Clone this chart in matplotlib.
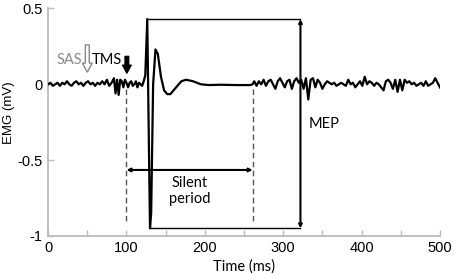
import matplotlib
matplotlib.use("Agg")
import matplotlib.pyplot as plt
from matplotlib.ticker import MultipleLocator

# ---------------------------------------------------------------------------
# Data
# ---------------------------------------------------------------------------

t_pre = [0, 3, 6, 9, 12, 15, 18, 21, 24, 27, 30, 33, 36, 39, 42, 45, 48, 51, 54,
         57, 60, 63, 66, 69, 72, 75, 78, 81, 84, 86, 88, 90, 92, 94, 96, 98, 100,
         102, 104, 106, 108, 110, 112, 114, 116, 118, 120, 122]
v_pre = [0.00, 0.01, -0.01, 0.00, 0.01, -0.01, 0.01, 0.00, 0.02, 0.00, -0.01,
         0.01, 0.02, 0.00, 0.01, -0.01, 0.01, 0.02, 0.00, 0.01, -0.01, 0.01, 0.00,
         0.02, 0.00, 0.03, -0.01, 0.01, 0.04, -0.06, 0.03, -0.07, 0.03, 0.02, -0.02,
         0.03, 0.01, -0.02, 0.01, 0.02, -0.01, 0.00, 0.02, -0.02, 0.01, 0.00, -0.01,
         0.02]

t_mep = [124, 126.5, 130, 131.5, 134, 137, 140, 144, 148, 152, 156, 160, 165,
         170, 176, 185, 195, 205, 220, 240, 258]
v_mep = [0.06, 0.43, -0.95, -0.85, 0.0, 0.23, 0.20, 0.05, -0.04, -0.065, -0.065,
         -0.04, -0.01, 0.02, 0.03, 0.02, 0.0, -0.005, -0.003, -0.005, -0.005]

t_post = [261, 263, 266, 269, 272, 275, 278, 281, 284, 287, 290, 293, 296, 299,
          302, 305, 308, 311, 314, 317, 320, 323, 326, 329, 332, 335, 338, 341,
          344, 347, 350, 353, 356, 359, 362, 365, 368, 371, 374, 377, 380, 383,
          386, 389, 392, 395, 398, 401, 404, 407, 410, 413, 416, 419, 422, 425,
          428, 431, 434, 437, 440, 443, 446, 449, 452, 455, 458, 461, 464, 467,
          470, 473, 476, 479, 482, 485, 488, 491, 494, 497, 500]
v_post = [0.0, 0.02, -0.01, 0.02, 0.0, 0.03, -0.01, 0.02, 0.03, 0.0, -0.03, 0.02,
          0.04, 0.01, -0.02, 0.02, 0.03, -0.03, 0.02, 0.04, 0.01, 0.03, -0.03, 0.04,
          -0.10, 0.03, 0.04, -0.02, 0.03, 0.01, -0.03, 0.0, 0.02, 0.01, 0.0, 0.01,
          -0.01, 0.0, 0.01, 0.0, -0.01, 0.03, 0.0, 0.01, -0.02, 0.0, 0.02, -0.01,
          0.05, 0.0, 0.02, 0.01, -0.01, 0.01, 0.0, -0.02, -0.04, 0.02, 0.03, 0.01,
          -0.03, 0.03, -0.05, 0.03, -0.04, 0.03, 0.01, 0.02, 0.0, 0.01, -0.01, 0.0,
          0.01, -0.01, 0.02, -0.01, 0.0, 0.01, 0.04, 0.01, -0.02]

time_ms = t_pre + t_mep + t_post
emg_mv = v_pre + v_mep + v_post

# Annotation landmarks (ms / mV)
SAS_T = 50
TMS_T = 100
SP_END = 261
MEP_T = 322
MEP_PEAK = 0.43
MEP_TROUGH = -0.95

LABEL_FONT = ["Lato", "DejaVu Sans"]
TICK_FONT = ["Liberation Sans", "DejaVu Sans"]

# ---------------------------------------------------------------------------
# Plot
# ---------------------------------------------------------------------------

fig = plt.figure(figsize=(4.54, 2.74), dpi=100)
ax = fig.add_axes([0.106, 0.139, 0.863, 0.830])

ax.plot(time_ms, emg_mv, color="black", lw=1.6, zorder=3)

# MEP box and peak-to-peak arrow
ax.plot([126.5, MEP_T], [MEP_PEAK, MEP_PEAK], color="black", lw=1.0)
ax.plot([130, MEP_T], [MEP_TROUGH, MEP_TROUGH], color="black", lw=1.0)
ax.annotate("", xy=(MEP_T, MEP_TROUGH), xytext=(MEP_T, MEP_PEAK),
            arrowprops=dict(arrowstyle="<|-|>", color="black", lw=1.5,
                            mutation_scale=5, shrinkA=0, shrinkB=0))
ax.text(333, -0.26, "MEP", fontsize=10.5, family=LABEL_FONT, va="center")

# Silent period
for x in (TMS_T, SP_END):
    ax.plot([x, x], [-0.03, -0.90], color="#555555", lw=1.0, ls=(0, (4, 2.5)))
ax.annotate("", xy=(TMS_T, -0.565), xytext=(SP_END, -0.565),
            arrowprops=dict(arrowstyle="<|-|>", color="black", lw=1.5,
                            mutation_scale=5, shrinkA=0, shrinkB=0))
ax.text(181, -0.705, "Silent\nperiod", fontsize=10.5, family=LABEL_FONT,
        ha="center", va="center", linespacing=1.2)

# Stimulus markers (hollow grey = SAS, filled black = TMS)
ax.arrow(SAS_T, 0.26, 0, 0.08 - 0.26, width=5, head_width=12.5, head_length=0.06,
         length_includes_head=True, fc="white", ec="#888888", lw=1.0)
ax.text(44, 0.16, "SAS", fontsize=10.5, family=LABEL_FONT, color="#888888",
        ha="right", va="center")
ax.arrow(TMS_T + 0.5, 0.185, 0, 0.072 - 0.185, width=5, head_width=11.5,
         head_length=0.055, length_includes_head=True, fc="black", ec="black", lw=0.8)
ax.text(94, 0.16, "TMS", fontsize=10.5, family=LABEL_FONT, color="black",
        ha="right", va="center")

# Axes styling
ax.set_xlim(0, 500)
ax.set_ylim(-1, 0.5)
ax.xaxis.set_major_locator(MultipleLocator(100))
ax.xaxis.set_minor_locator(MultipleLocator(50))
ax.set_yticks([-1, -0.5, 0, 0.5])
ax.set_yticklabels(["-1", "-0.5", "0", "0.5"])
for side in ("top", "right"):
    ax.spines[side].set_visible(False)
for side in ("left", "bottom"):
    ax.spines[side].set_color("#bbbbbb")
    ax.spines[side].set_linewidth(1.3)
ax.tick_params(which="both", direction="in", length=4, color="#bbbbbb", width=1)
ax.tick_params(labelsize=10.5, pad=4)
for lbl in ax.get_xticklabels() + ax.get_yticklabels():
    lbl.set_family(TICK_FONT)

ax.set_xlabel("Time (ms)", fontsize=10.5, family=LABEL_FONT, labelpad=3)
ax.set_ylabel("EMG (mV)", fontsize=9.5, family=TICK_FONT)
ax.yaxis.set_label_coords(-0.084, 0.54)

fig.savefig("out.png", dpi=100)
plt.close(fig)
